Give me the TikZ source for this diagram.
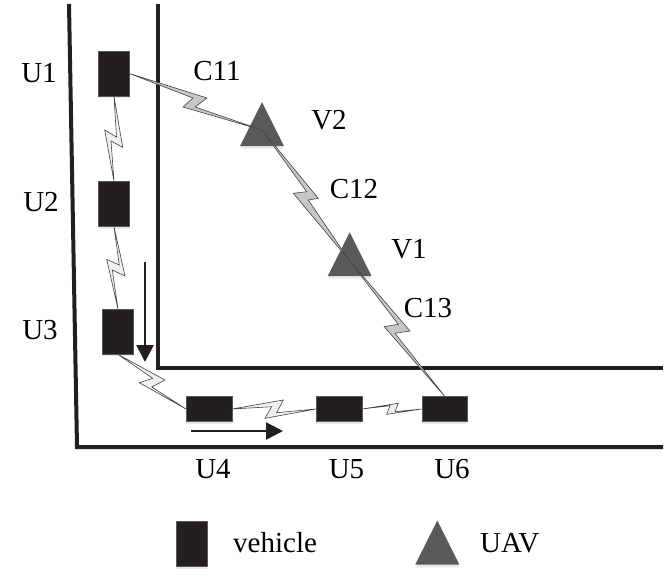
\documentclass[tikz,border=0pt]{standalone}
\usepackage{fontspec}
\setmainfont{Liberation Serif}
\usetikzlibrary{arrows.meta,shapes.geometric,shadows}
\definecolor{boxblack}{HTML}{231F20}
\definecolor{triangray}{HTML}{58595B}
\tikzset{
    wall/.style={line width=4pt, color=boxblack},
    motion/.style={line width=2.6pt, color=boxblack, -{Triangle[width=17pt,length=17pt]}},
    vehicle/.style={draw=triangray, fill=boxblack, line width=.5pt, inner sep=0pt, drop shadow={opacity=.18, shadow xshift=0pt, shadow yshift=-2pt}},
    upright/.style={vehicle, minimum width=31pt, minimum height=45pt},
    flat/.style={vehicle, minimum width=45.5pt, minimum height=25pt},
    uav/.style={shape=isosceles triangle, shape border rotate=90, isosceles triangle stretches, anchor=apex, fill=triangray, inner sep=0pt, minimum width=44pt, minimum height=44pt, drop shadow={opacity=.15, shadow xshift=0pt, shadow yshift=-3pt}},
    tag/.style={font=\fontsize{29}{29}\selectfont, inner sep=0pt},
    boltlink/.style={draw=boxblack!85, line width=.6pt, line join=miter, fill=#1},
    boltlink/.default={black!6},
}
% end, far tip, notch, end, near tip, notch
\newcommand{\bolt}[7][black!6]{
    \draw[boltlink=#1] (#2) -- (#4) -- (#5) -- (#3) -- (#6) -- (#7) -- cycle;
}
\begin{document}
\begin{tikzpicture}[x=1pt, y=-1pt]
    \useasboundingbox (0,0) rectangle (667,582);
    % roads
    \draw[wall] (69,4) -- (77,447) -- (663,447);
    \draw[wall] (158,4) -- (158,367.5) -- (663,367.5);
    % boxes and triangles, the bolts go on top
    \node[upright] (u1) at (114,73.6) {};
    \node[upright] (u2) at (114,204) {};
    \node[upright] (u3) at (118,331.7) {};
    \node[flat] (u4) at (209,409) {};
    \node[flat] (u5) at (339,409) {};
    \node[flat] (u6) at (444.7,409) {};
    \node[uav] (v2) at (262,101.7) {};
    \node[uav] (v1) at (349.7,231.7) {};
    \coordinate (v2mid) at (262,130);
    \coordinate (v1mid) at (349,260);
    \bolt{u1.south}{u2.north}{122.7,147.3}{111,141}{104.7,130}{116.5,137}
    \bolt{u2.south}{u3.north}{125,276}{112.3,270}{106.7,259.3}{119.3,265}
    \bolt{u3.south}{u4.west}{165,380}{151.7,387}{139.3,382.7}{152.7,378.3}
    \bolt{u4.east}{u5.west}{283.3,400}{276.7,412.7}{265,418.3}{271.7,406.7}
    \bolt{u5.east}{u6.west}{398.3,403.3}{395,411.7}{386.7,414.3}{390,405.7}
    \bolt[black!22]{u1.east}{v2mid}{207,98}{195,107}{183,107}{193,98}
    \bolt[black!22]{v2mid}{v1mid}{318.3,198.3}{308.3,200}{293.3,193.3}{306.7,191.7}
    \bolt[black!22]{v1mid}{u6.north}{410,331}{395,333.3}{384.3,326.7}{398.3,324.3}
    % direction of travel
    \coordinate (downfrom) at (145,262);
    \coordinate (downto) at (145,362);
    \coordinate (rightfrom) at (191,431);
    \coordinate (rightto) at (283,431);
    \draw[motion] (downfrom) -- (downto);
    \draw[motion] (rightfrom) -- (rightto);
    % labels
    \foreach \name/\x/\y/\txt in {lu1/39/73/U1, lu2/41/202/U2, lu3/40/330/U3, lu4/213/469/U4, lu5/346.5/469/U5, lu6/452/469/U6, lc1/217/71/C11, lc2/354/189/C12, lc3/428/308/C13, lv2/329/120/V2, lv1/409/249/V1} {
        \node[tag] (\name) at (\x,\y) {\txt};
    }
    % legend
    \node[upright] (keyvehicle) at (191.7,544) {};
    \node[tag, anchor=base west] (keyvehicletext) at (233,552) {vehicle};
    \node[uav] (keyuav) at (437.3,520) {};
    \node[tag, anchor=base west] (keyuavtext) at (480,552) {UAV};
\end{tikzpicture}
\end{document}
